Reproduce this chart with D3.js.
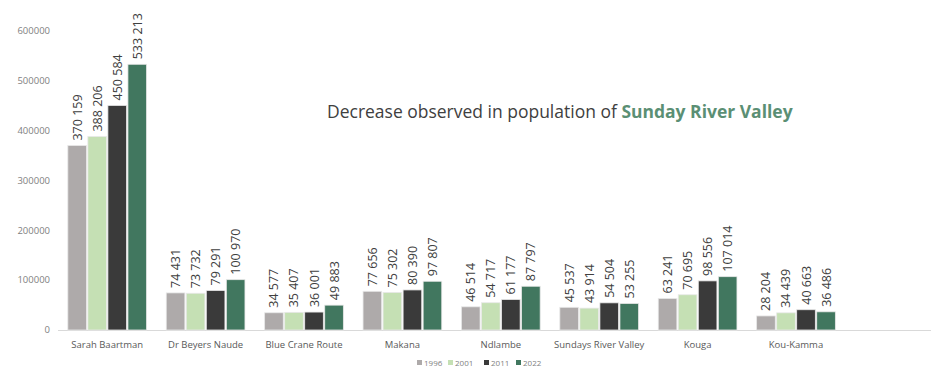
<!DOCTYPE html>
<html><head><meta charset="utf-8">
<script src="https://cdn.jsdelivr.net/npm/d3@7"></script>
<style>body{margin:0;background:#fff}svg{display:block}</style>
</head><body>
<svg id="c" width="933" height="369"></svg>
<script>
const categories = ["Sarah Baartman","Dr Beyers Naude","Blue Crane Route","Makana","Ndlambe","Sundays River Valley","Kouga","Kou-Kamma"];
const seriesNames = ["1996","2001","2011","2022"];
const v1996 = [370159,74431,34577,77656,46514,45537,63241,28204];
const v2001 = [388206,73732,35407,75302,54717,43914,70695,34439];
const v2011 = [450584,79291,36001,80390,61177,54504,98556,40663];
const v2022 = [533213,100970,49883,97807,87797,53255,107014,36486];
const yTicks = [0,100000,200000,300000,400000,500000,600000];
const colors = ["#aeaaaa","#c5e0b4","#3a3a3a","#41775f"];
const titleText = "Decrease observed in population of ";
const titleHighlight = "Sunday River Valley";

const series = [v1996,v2001,v2011,v2022];
const svg = d3.select("#c");
const font = "'Open Sans', 'Liberation Sans', sans-serif";

const x0 = d3.scaleBand().domain(categories).range([58, 58 + 98.4*8]).paddingInner(0.2).paddingOuter(0.1);
const x1 = d3.scaleBand().domain(seriesNames).range([0, x0.bandwidth()]).paddingInner(0.07);
const y = d3.scaleLinear().domain([0,600000]).range([330,31]);

// y tick labels
svg.append("g").selectAll("text").data(yTicks).join("text")
  .attr("x", 50).attr("y", d => y(d)).attr("dy","0.35em")
  .attr("text-anchor","end").attr("font-family",font).attr("font-size","9.5px").attr("fill","#7f7f7f")
  .text(d => d3.format("d")(d));

// baseline
svg.append("line").attr("x1",58).attr("x2",931).attr("y1",y(0)+0.5).attr("y2",y(0)+0.5)
  .attr("stroke","#d9d9d9").attr("stroke-width",1);

const fmt = n => d3.format(",")(n).replace(/,/g," ");

const groups = svg.append("g").selectAll("g").data(categories).join("g")
  .attr("transform", d => `translate(${x0(d)},0)`);

groups.each(function(cat, ci){
  const g = d3.select(this);
  seriesNames.forEach((s, si) => {
    const val = series[si][ci];
    g.append("rect").attr("x", x1(s)).attr("y", y(val)).attr("width", x1.bandwidth())
      .attr("height", y(0)-y(val)).attr("fill", colors[si]).attr("stroke","#e8e8e8").attr("stroke-width",0.8);
    const cx = x1(s) + x1.bandwidth()/2;
    g.append("text").attr("transform", `translate(${cx+4.5},${y(val)-5}) rotate(-90)`)
      .attr("font-family",font).attr("font-size","12.5px").attr("fill","#404040")
      .text(fmt(val));
  });
});

// category labels
svg.append("g").selectAll("text").data(categories).join("text")
  .attr("x", d => x0(d) + x0.bandwidth()/2).attr("y", 348)
  .attr("text-anchor","middle").attr("font-family",font).attr("font-size","9.5px").attr("fill","#595959")
  .text(d => d);

// legend
const legendX = [417, 448, 484, 516];
const lg = svg.append("g");
seriesNames.forEach((s,i) => {
  lg.append("rect").attr("x", legendX[i]).attr("y", 360).attr("width",5).attr("height",5).attr("fill",colors[i]);
  lg.append("text").attr("x", legendX[i]+7).attr("y", 365.5).attr("font-family",font)
    .attr("font-size","8px").attr("fill","#7f7f7f").text(s);
});

// title
const t = svg.append("text").attr("x",327).attr("y",118).attr("font-family",font).attr("font-size","20px");
t.append("tspan").attr("fill","#404040").text(titleText);
t.append("tspan").attr("fill","#5b8f74").attr("font-weight","bold").text(titleHighlight);
const w = t.node().getComputedTextLength();
t.attr("font-size", (20*466/w)+"px");
</script>
</body></html>
